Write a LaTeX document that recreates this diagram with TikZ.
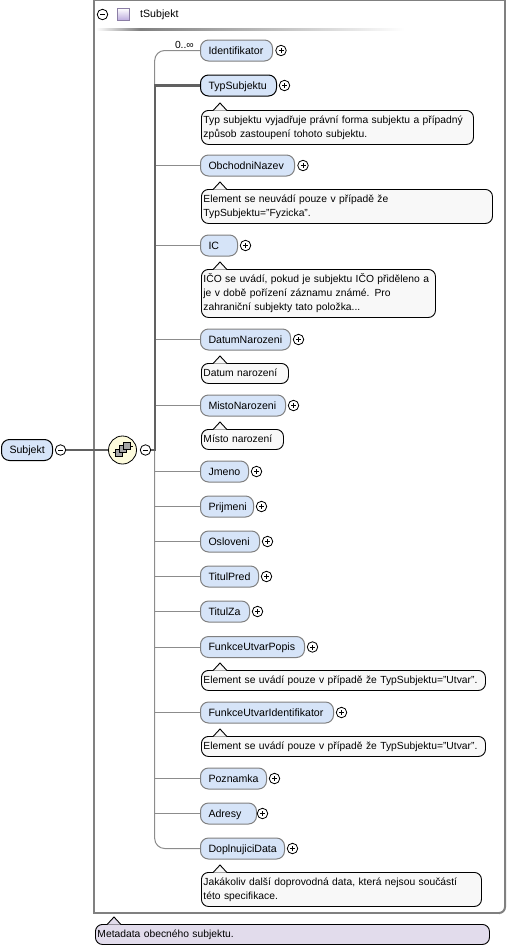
\documentclass[tikz,border=0pt]{standalone}
\usepackage{fontspec}
\setmainfont{Liberation Sans}
\usepackage{tikz}
\usepackage{xcolor}
\usetikzlibrary{calc}
\definecolor{elemfill}{HTML}{D6E4F8}
\definecolor{notefill}{HTML}{F8F8F8}
\definecolor{metafill}{HTML}{E2DCEC}
\definecolor{seqfill}{HTML}{FDFBDC}
\definecolor{framegray}{HTML}{808080}
\definecolor{linegray}{HTML}{8C8C8C}
\definecolor{typefill}{HTML}{B9A8DC}
\tikzset{
  elem/.style={draw=framegray,line width=1pt,fill=elemfill,rounded corners=8pt,anchor=west,
    minimum height=21pt,inner xsep=8pt,inner ysep=0pt,text width=#1,text height=7.6pt,text depth=0pt,
    font=\fontsize{10.6}{12}\selectfont},
  elemreq/.style={elem=#1,draw=black},
  note/.style={draw=black,line width=0.9pt,fill=notefill,rounded corners=7pt,anchor=north west,
    inner xsep=2pt,inner ysep=3pt,text width=#1,align=left,font=\fontsize{10.3}{14}\selectfont,
    execute at begin node=\strut,execute at end node=\strut},
  btn/.style={circle,draw=black,line width=0.8pt,fill=white,minimum size=10.5pt,inner sep=0pt},
  plusbtn/.style={btn,path picture={
    \draw[line width=0.8pt] ($(path picture bounding box.center)+(-2.5pt,0)$) -- ++(5pt,0);
    \draw[line width=0.8pt] ($(path picture bounding box.center)+(0,-2.5pt)$) -- ++(0,5pt);}},
  minusbtn/.style={btn,path picture={
    \draw[line width=0.8pt] ($(path picture bounding box.center)+(-2.5pt,0)$) -- ++(5pt,0);}},
  seqbox/.style={draw=black,line width=0.6pt,fill=gray!70,minimum size=7pt,inner sep=0pt},
  conn/.style={draw=linegray,line width=1pt},
  connreq/.style={draw=black!62,line width=2.2pt},
}
% tip of a note, drawn over its top border
\newcommand{\notetip}[2][notefill]{
  \draw[line width=0.9pt,fill=#1] ($(#2.north west)+(12,0.6)$) -- ++(7,-7.6) -- ++(7,7.6);
}
\begin{document}
\begin{tikzpicture}[x=1pt,y=-1pt]
\useasboundingbox (0,0) rectangle (507,948);

% frame of the type
\draw[draw=framegray,line width=2pt]
  (505,500) -- (505,0) -- (94,0) -- (94,913) -- (500,913);
\draw[draw=framegray,line width=2pt,rounded corners=6pt]
  (500,913) -- (505,913) -- (505,500);
\shade[left color=white,right color=black!50] (96,28) rectangle (140,30);
\shade[left color=black!50,right color=white] (140,28) rectangle (405,30);
\node[minusbtn] (typeminus) at (102.5,14.5) {};
\node[draw=typefill!75!black,line width=0.8pt,top color=white,bottom color=typefill,
  minimum size=12.5pt,inner sep=0pt] (typeicon) at (123.5,14.5) {};
\node[anchor=west,inner sep=0pt,font=\fontsize{10.6}{12}\selectfont] (typename) at (140,14.5) {tSubjekt};

% root
\node[elemreq=35pt] (subjekt) at (1,450) {Subjekt};
\node[minusbtn] (subjektminus) at (60.5,450) {};

% sequence
\node[circle,draw=black,line width=0.8pt,fill=seqfill,minimum size=28pt,inner sep=0pt] (seq) at (122.5,450) {};
\coordinate (seqin) at (112.5,452.5);
\coordinate (seqout) at (133,446);
\node[seqbox] (seqa) at (119,452.5) {};
\node[seqbox] (seqb) at (123,449) {};
\node[seqbox] (seqc) at (126.5,446) {};
\draw[line width=0.8pt] (seqin) -- (seqa);
\draw[line width=0.8pt] (seqc) -- (seqout);
\node[minusbtn] (seqminus) at (145.5,450) {};
\coordinate (trunk) at (154.7,450);

% elements
\node[elem=56pt] (identifikator) at (200,50.5) {Identifikator};
\node[elemreq=60pt] (typsubjektu) at (200,85.5) {TypSubjektu};
\node[elem=78pt] (obchodninazev) at (200,165.5) {ObchodniNazev};
\node[elem=21pt] (ic) at (200,245.5) {IC};
\node[elem=74pt] (datumnarozeni) at (200,339.5) {DatumNarozeni};
\node[elem=69pt] (mistonarozeni) at (200,405.5) {MistoNarozeni};
\node[elem=32pt] (jmeno) at (200,471.5) {Jmeno};
\node[elem=37pt] (prijmeni) at (200,506.5) {Prijmeni};
\node[elem=43pt] (osloveni) at (200,541.5) {Osloveni};
\node[elem=42pt] (titulpred) at (200,576.5) {TitulPred};
\node[elem=33pt] (titulza) at (200,611.5) {TitulZa};
\node[elem=88pt] (funkcepopis) at (200,647) {FunkceUtvarPopis};
\node[elem=117pt] (funkceid) at (200,712.5) {FunkceUtvarIdentifikator};
\node[elem=50pt] (poznamka) at (200,778.5) {Poznamka};
\node[elem=40pt] (adresy) at (200,813.5) {Adresy};
\node[elem=68pt] (doplnujici) at (200,848.5) {DoplnujiciData};

\node[anchor=south east,inner sep=0pt,font=\fontsize{10.3}{12}\selectfont] (occurs) at (194,48.5) {0..∞};

% plus buttons
\node[plusbtn] at (281,50.5) (identifikatorplus) {};
\node[plusbtn] at (284.5,85.5) (typsubjektuplus) {};
\node[plusbtn] at (303,165.5) (obchodninazevplus) {};
\node[plusbtn] at (245.5,245.5) (icplus) {};
\node[plusbtn] at (298.5,339.5) (datumnarozeniplus) {};
\node[plusbtn] at (293.5,405.5) (mistonarozeniplus) {};
\node[plusbtn] at (256.5,471.5) (jmenoplus) {};
\node[plusbtn] at (261.5,506.5) (prijmeniplus) {};
\node[plusbtn] at (267.5,541.5) (osloveniplus) {};
\node[plusbtn] at (266.5,576.5) (titulpredplus) {};
\node[plusbtn] at (257.5,611.5) (titulzaplus) {};
\node[plusbtn] at (312.5,647) (funkcepopisplus) {};
\node[plusbtn] at (341.5,712.5) (funkceidplus) {};
\node[plusbtn] at (274.5,778.5) (poznamkaplus) {};
\node[plusbtn] at (262.5,813.5) (adresyplus) {};
\node[plusbtn] at (292.5,848.5) (doplnujiciplus) {};

% notes
\node[note=268pt] (typnote) at (201,110) {Typ subjektu vyjadřuje právní forma subjektu a případný\\způsob zastoupení tohoto subjektu.};
\node[note=287pt] (obchodninote) at (201,189) {Element se neuvádí pouze v případě že\\TypSubjektu="Fyzicka".};
\node[note=230pt] (icnote) at (201,269) {IČO se uvádí, pokud je subjektu IČO přiděleno a\\je v době pořízení záznamu známé. Pro\\zahraniční subjekty tato položka...};
\node[note=83pt] (datumnote) at (201,363) {Datum narození};
\node[note=78pt] (mistonote) at (201,429) {Místo narození};
\node[note=280pt] (popisnote) at (201,670) {Element se uvádí pouze v případě že TypSubjektu="Utvar".};
\node[note=280pt] (idnote) at (201,736) {Element se uvádí pouze v případě že TypSubjektu="Utvar".};
\node[note=276pt] (doplnujicinote) at (201,872) {Jakákoliv další doprovodná data, která nejsou součástí\\této specifikace.};
\node[note=390pt,fill=metafill] (metanote) at (95,924) {Metadata obecného subjektu.};
\notetip{typnote}
\notetip{obchodninote}
\notetip{icnote}
\notetip{datumnote}
\notetip{mistonote}
\notetip{popisnote}
\notetip{idnote}
\notetip{doplnujicinote}
\notetip[metafill]{metanote}

% connectors
\draw[conn,rounded corners=10pt] (identifikator.west) -| (trunk) |- (doplnujici.west);
\draw[conn] (obchodninazev.west) -- (obchodninazev.west -| trunk);
\draw[conn] (ic.west) -- (ic.west -| trunk);
\draw[conn] (datumnarozeni.west) -- (datumnarozeni.west -| trunk);
\draw[conn] (mistonarozeni.west) -- (mistonarozeni.west -| trunk);
\draw[conn] (jmeno.west) -- (jmeno.west -| trunk);
\draw[conn] (prijmeni.west) -- (prijmeni.west -| trunk);
\draw[conn] (osloveni.west) -- (osloveni.west -| trunk);
\draw[conn] (titulpred.west) -- (titulpred.west -| trunk);
\draw[conn] (titulza.west) -- (titulza.west -| trunk);
\draw[conn] (funkcepopis.west) -- (funkcepopis.west -| trunk);
\draw[conn] (funkceid.west) -- (funkceid.west -| trunk);
\draw[conn] (poznamka.west) -- (poznamka.west -| trunk);
\draw[conn] (adresy.west) -- (adresy.west -| trunk);
\draw[connreq] (typsubjektu.west) -| (trunk) -- (seqminus.east);
\draw[connreq] (subjektminus.east) -- (seq.west);
\end{tikzpicture}
\end{document}
